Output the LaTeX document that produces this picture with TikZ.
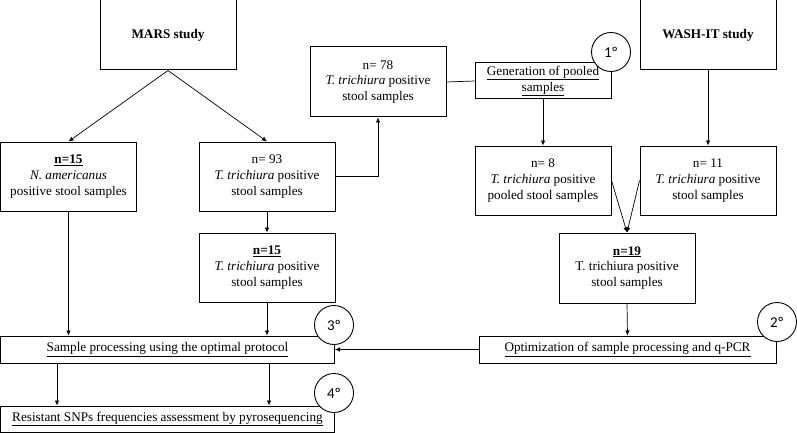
\documentclass[tikz,border=0pt]{standalone}
\usepackage{fontspec}
\setmainfont{Liberation Serif}
\newfontfamily\circfont{Carlito}
\usetikzlibrary{arrows.meta}
\begin{document}
\begin{tikzpicture}[x=1pt,y=-1pt,
  box/.style={draw,line width=1pt,inner sep=0pt,minimum width=136pt,align=center,font=\fontsize{13.2}{15.8}\selectfont},
  wide/.style={draw,line width=1pt,inner sep=0pt,align=center,font=\fontsize{13.2}{15.8}\selectfont},
  stepno/.style={draw,circle,fill=white,line width=0.9pt,minimum size=39pt,inner sep=0pt,font=\circfont\fontsize{15}{17}\selectfont},
  arr/.style={line width=0.7pt,-{Latex[length=5pt,width=4.5pt]}},
  ln/.style={line width=0.7pt}]
\useasboundingbox (0,0) rectangle (797,433);
% boxes
\node[box,minimum height=70pt] (mars) at (168,35) {\textbf{MARS study}};
\node[box,minimum height=70pt] (n78) at (378,82) {n= 78\\\textit{T. trichiura} positive\\stool samples};
\node[box,minimum height=36pt] (gen) at (543,81) {\underline{Generation of pooled}\\\underline{samples}};
\node[box,minimum height=70pt] (wash) at (708,35) {\textbf{WASH-IT study}};
\node[box,minimum height=69pt] (n15N) at (68.5,176.5) {\underline{\textbf{n=15}}\\\textit{N. americanus}\\positive stool samples};
\node[box,minimum height=69pt] (n93) at (267,176.5) {n= 93\\\textit{T. trichiura} positive\\stool samples};
\node[box,minimum height=69pt] (n8) at (543,180.5) {n= 8\\\textit{T. trichiura} positive\\pooled stool samples};
\node[box,minimum height=69pt] (n11) at (708,180.5) {n= 11\\\textit{T. trichiura} positive\\stool samples};
\node[box,minimum height=69pt] (n15T) at (267,267.5) {\underline{\textbf{n=15}}\\\textit{T. trichiura} positive\\stool samples};
\node[box,minimum height=70pt] (n19) at (627,268) {\underline{\textbf{n=19}}\\T. trichiura positive\\stool samples};
\node[wide,minimum width=334pt,minimum height=27pt] (samp) at (167.5,349.5) {\underline{Sample processing using the optimal protocol}};
\node[wide,minimum width=297pt,minimum height=27pt] (opt) at (627.5,349.5) {\underline{Optimization of sample processing and q-PCR}};
\node[wide,minimum width=334pt,minimum height=26pt] (res) at (167.5,419) {\underline{Resistant SNPs frequencies assessment by pyrosequencing}};
% step circles
\node[stepno] (c1) at (611,52) {1º};
\node[stepno] (c2) at (777,322) {2º};
\node[stepno] (c3) at (334,325) {3º};
\node[stepno] (c4) at (334,393) {4º};
% connectors
\draw[arr] (mars.south) -- (n15N.north);
\draw[arr] (mars.south) -- (n93.north);
\draw[arr] (n93.east) -| (n78.south);
\draw[ln] (n78.east) -- (gen.west);
\draw[arr] (gen.south) -- (n8.north);
\draw[arr] (wash.south) -- (n11.north);
\draw[arr] (n8.east) -- (n19.north);
\draw[arr] (n11.west) -- (n19.north);
\draw[arr] (n93.south) -- (n15T.north);
\draw[arr] (n19.south) -- (opt.north);
\draw[arr] (opt.west) -- (samp.east);
\draw[arr] (n15N.south) -- (n15N.south |- samp.north);
\draw[arr] (n15T.south) -- (samp.north -| n15T.south);
\coordinate (sa) at ([xshift=-110.5pt]samp.south);
\coordinate (sb) at ([xshift=101.5pt]samp.south);
\draw[arr] (sa) -- (sa |- res.north);
\draw[arr] (sb) -- (sb |- res.north);
\end{tikzpicture}
\end{document}
